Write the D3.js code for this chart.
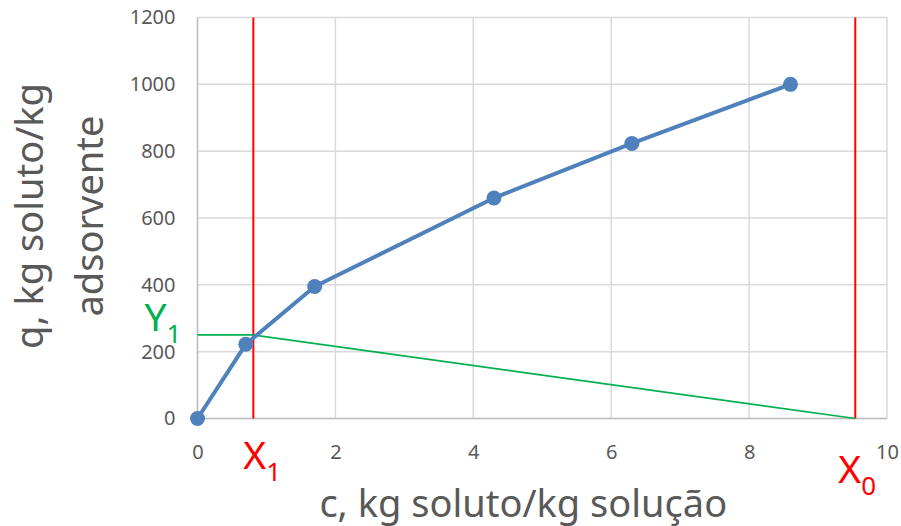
<!DOCTYPE html>
<html>
<head>
<meta charset="utf-8">
<script src="https://cdn.jsdelivr.net/npm/d3@7"></script>
<style>
  body { margin: 0; background: #fff; }
  text { font-family: "Noto Sans", "Open Sans", sans-serif; }
</style>
</head>
<body>
<div id="chart"></div>
<script>
// isotherm points
let cValues = [0, 0.7, 1.7, 4.3, 6.3, 8.6];
let qValues = [0, 222, 395, 660, 823, 1000];

// operating line and markers
let opLineC = [0, 0.81, 9.54];
let opLineQ = [250, 250, 0];
let markerC = [0.81, 9.54];

let xTicks = [0, 2, 4, 6, 8, 10];
let yTicks = [0, 200, 400, 600, 800, 1000, 1200];

const width = 901, height = 526;
const margin = {top: 17.5, right: 14, bottom: 107.5, left: 197.5};
const w = width - margin.left - margin.right;
const h = height - margin.top - margin.bottom;

let svg = d3.select("#chart")
    .append("svg")
    .attr("width", width)
    .attr("height", height)
    .append("g")
    .attr("transform", `translate(${margin.left}, ${margin.top})`);

let x = d3.scaleLinear().domain([0, 10]).range([0, w]);
let y = d3.scaleLinear().domain([0, 1200]).range([h, 0]);

// gridlines
svg.append("g")
    .selectAll("line")
    .data(xTicks)
    .enter()
    .append("line")
    .attr("x1", d => x(d)).attr("x2", d => x(d))
    .attr("y1", 0).attr("y2", h)
    .attr("stroke", "#d9d9d9")
    .attr("stroke-width", 1.5);

svg.append("g")
    .selectAll("line")
    .data(yTicks)
    .enter()
    .append("line")
    .attr("x1", 0).attr("x2", w)
    .attr("y1", d => y(d)).attr("y2", d => y(d))
    .attr("stroke", "#d9d9d9")
    .attr("stroke-width", 1.5);

// axis lines
svg.append("line")
    .attr("x1", 0).attr("x2", 0).attr("y1", 0).attr("y2", h)
    .attr("stroke", "#bfbfbf").attr("stroke-width", 1.5);
svg.append("line")
    .attr("x1", 0).attr("x2", w).attr("y1", h).attr("y2", h)
    .attr("stroke", "#bfbfbf").attr("stroke-width", 1.5);

// tick labels
let xAxis = svg.append("g")
    .attr("transform", `translate(0, ${h})`)
    .call(d3.axisBottom(x).tickValues(xTicks).tickFormat(d3.format("d")).tickSize(0).tickPadding(26));
let yAxis = svg.append("g")
    .call(d3.axisLeft(y).tickValues(yTicks).tickFormat(d3.format("d")).tickSize(0).tickPadding(22));
[xAxis, yAxis].forEach(a => {
  a.select(".domain").remove();
  a.selectAll("text")
      .style("font-size", "20px")
      .style("font-family", "Noto Sans")
      .attr("fill", "#595959");
});

// red vertical markers
svg.selectAll("line.red")
    .data(markerC)
    .enter()
    .append("line")
    .attr("class", "red")
    .attr("x1", d => x(d)).attr("x2", d => x(d))
    .attr("y1", 0).attr("y2", h)
    .attr("stroke", "#ff0000")
    .attr("stroke-width", 2);

// green operating line
let opData = opLineC.map((c, i) => ({c: c, q: opLineQ[i]}));
svg.append("path")
    .datum(opData)
    .attr("fill", "none")
    .attr("stroke", "#00b050")
    .attr("stroke-width", 1.75)
    .attr("d", d3.line().x(d => x(d.c)).y(d => y(d.q)));

// isotherm
let isoData = cValues.map((c, i) => ({c: c, q: qValues[i]}));
svg.append("path")
    .datum(isoData)
    .attr("fill", "none")
    .attr("stroke", "#4f81bd")
    .attr("stroke-width", 4)
    .attr("stroke-linejoin", "round")
    .attr("d", d3.line().x(d => x(d.c)).y(d => y(d.q)));

svg.selectAll("circle")
    .data(isoData)
    .enter()
    .append("circle")
    .attr("cx", d => x(d.c))
    .attr("cy", d => y(d.q))
    .attr("r", 7.5)
    .attr("fill", "#4f81bd");

// axis titles
svg.append("text")
    .attr("transform", `translate(${w / 2 - 19}, ${h + 98})`)
    .style("text-anchor", "middle")
    .style("font-size", "38px")
    .attr("fill", "#595959")
    .text("c, kg soluto/kg solução");

let yTitle = svg.append("text")
    .attr("transform", `translate(-155, ${h / 2 - 2}) rotate(-90)`)
    .style("text-anchor", "middle")
    .style("font-size", "38px")
    .attr("fill", "#595959");
yTitle.append("tspan").attr("x", 0).attr("dy", 0).text("q, kg soluto/kg");
yTitle.append("tspan").attr("x", 0).attr("dy", 60).text("adsorvente");

// point labels with subscripts
function subLabel(px, py, main, sub, color) {
  let t = svg.append("text")
      .attr("x", px).attr("y", py)
      .attr("fill", color)
      .style("font-size", "39px");
  t.append("tspan").text(main);
  t.append("tspan").attr("dy", 12).style("font-size", "26px").text(sub);
}
subLabel(x(markerC[0]) - 10, h + 50, "X", "1", "#ff0000");
subLabel(x(markerC[1]) - 17, h + 64, "X", "0", "#ff0000");
subLabel(-53, y(opLineQ[0]) - 4, "Y", "1", "#00b050");
</script>
</body>
</html>
